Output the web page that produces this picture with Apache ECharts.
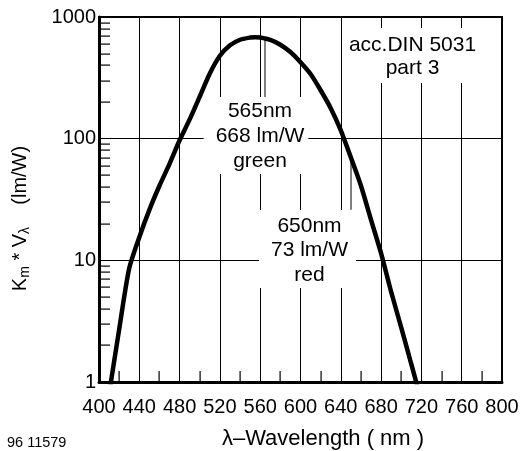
<!DOCTYPE html>
<html>
<head>
<meta charset="utf-8">
<script src="https://cdn.jsdelivr.net/npm/echarts@6/dist/echarts.min.js"></script>
<style>html,body{margin:0;padding:0;background:#fff}#c{width:520px;height:451px}</style>
</head>
<body>
<div id="c"></div>
<script>
// Data
const wavelengths = [410, 420, 430, 440, 450, 460, 470, 480, 490, 500, 510, 520, 530, 540, 550, 555, 560, 570, 580, 590, 600, 610, 620, 630, 640, 650, 660, 670, 680, 690, 700, 710, 720];
const efficacy    = [0.8, 2.7, 8.6, 15.5, 26, 41, 62, 97, 144, 222, 344, 480, 585, 650, 678, 683, 678, 648, 592, 515, 425, 340, 250, 178, 117, 70, 41, 21.5, 11.4, 5.5, 2.8, 1.4, 0.7];
const xTicks = [400, 440, 480, 520, 560, 600, 640, 680, 720, 760, 800];
const xMinorTicks = [420, 460, 500, 540, 580, 620, 660, 700, 740, 780];
const yTicks = [1, 10, 100, 1000];
const yMinorTicks = [2, 3, 4, 5, 6, 7, 8, 9, 20, 30, 40, 50, 60, 70, 80, 90, 200, 300, 400, 500, 600, 700, 800, 900];
const markerWavelengths = [565, 650];
const markerTop = [668, 68];
const markerBottom = [220, 26];
const labelGreen = '565nm\n668 lm/W\ngreen';
const labelRed = '650nm\n73 lm/W\nred';
const labelNorm = 'acc.DIN 5031\npart 3';

const FONT = "'Liberation Sans', Arial, Helvetica, sans-serif";
const chart = echarts.init(document.getElementById('c'), null, {renderer: 'canvas'});

const option = {
  backgroundColor: '#fff',
  animation: false,
  grid: {
    left: 99, top: 17, right: 18, bottom: 69,
    show: true, borderColor: '#000', borderWidth: 2,
    containLabel: false, outerBoundsMode: 'none'
  },
  xAxis: {
    type: 'value',
    min: xTicks[0], max: xTicks[xTicks.length - 1],
    interval: xTicks[1] - xTicks[0],
    axisLine: {show: true, lineStyle: {color: '#000', width: 3}},
    axisTick: {show: false},
    splitLine: {show: true, lineStyle: {color: '#000', width: 1}},
    axisLabel: {color: '#000', fontSize: 20, fontFamily: FONT, margin: 15, formatter: v => String(v)}
  },
  yAxis: {
    type: 'log', logBase: 10,
    min: yTicks[0], max: yTicks[yTicks.length - 1],
    axisLine: {show: true, lineStyle: {color: '#000', width: 3}},
    axisTick: {show: false},
    splitLine: {show: true, lineStyle: {color: '#000', width: 1}},
    axisLabel: {color: '#000', fontSize: 20, fontFamily: FONT, margin: 3, formatter: v => String(v)}
  },
  series: [
    {
      type: 'custom', name: 'markers', z: 3, silent: true, clip: false,
      data: markerWavelengths.map((w, i) => [w, markerTop[i], markerBottom[i]]),
      renderItem: function (params, api) {
        const p1 = api.coord([api.value(0), api.value(1)]);
        const p2 = api.coord([api.value(0), api.value(2)]);
        return {type: 'rect', shape: {x: Math.round(p1[0]) - 0.5, y: p1[1], width: 1, height: p2[1] - p1[1]}, style: {fill: '#000'}};
      }
    },
    {
      type: 'line',
      name: 'Km*V',
      z: 10,
      clip: true,
      smooth: 0.25,
      symbol: 'none',
      lineStyle: {color: '#000', width: 4.5},
      data: wavelengths.map((w, i) => [w, efficacy[i]])
    }
  ],
  graphic: [
    {type: 'text', z: 6, x: 256, y: 97,
     style: {text: labelGreen, fill: '#000', fontSize: 21, fontFamily: FONT, lineHeight: 25,
             align: 'center', verticalAlign: 'top', backgroundColor: '#fff', padding: [2, 4, 0, 12]}},
    {type: 'text', z: 6, x: 307.5, y: 210,
     style: {text: labelRed, fill: '#000', fontSize: 21, fontFamily: FONT, lineHeight: 24.5,
             align: 'center', verticalAlign: 'top', backgroundColor: '#fff', padding: [3.5, 8, 1, 12]}},
    {type: 'text', z: 6, x: 412.5, y: 28,
     style: {text: labelNorm, fill: '#000', fontSize: 21, fontFamily: FONT, lineHeight: 23,
             align: 'center', verticalAlign: 'top', backgroundColor: '#fff', padding: [6, 4, 3, 4]}},
    {type: 'text', z: 6, x: 20, y: 218.5, rotation: Math.PI / 2,
     style: {text: '{n|K}{s|m}{n| * V}{s|λ}{n|    (lm/W)}', fill: '#000',
             align: 'center', verticalAlign: 'middle',
             rich: {
               n: {fontSize: 20, fontFamily: FONT, lineHeight: 24, fill: '#000'},
               s: {fontSize: 14, fontFamily: FONT, lineHeight: 14, padding: [10, 0, 0, 0], fill: '#000'}
             }}},
    {type: 'text', z: 6, x: 323, y: 439,
     style: {text: 'λ–Wavelength ( nm )', fill: '#000', fontSize: 22, fontFamily: FONT,
             align: 'center', verticalAlign: 'middle'}},
    {type: 'text', z: 6, x: 7, y: 443,
     style: {text: '96 11579', fill: '#000', fontSize: 14.5, fontFamily: FONT,
             align: 'left', verticalAlign: 'middle'}}
  ]
};
chart.setOption(option);

// Minor ticks placed through the chart's own coordinate conversion
const tickEls = [];
yMinorTicks.forEach(v => {
  const p = chart.convertToPixel({gridIndex: 0}, [xTicks[0], v]);
  const y = Math.round(p[1]);
  tickEls.push({type: 'rect', z: 20, silent: true,
    shape: {x: p[0], y: y - 0.5, width: 11, height: 1.2},
    style: {fill: '#000'}});
});
xMinorTicks.forEach(w => {
  const p = chart.convertToPixel({gridIndex: 0}, [w, yTicks[0]]);
  const x = Math.round(p[0]);
  tickEls.push({type: 'rect', z: 20, silent: true,
    shape: {x: x - 0.5, y: p[1] - 11, width: 1.2, height: 11},
    style: {fill: '#000'}});
});
chart.setOption({graphic: option.graphic.concat(tickEls)});
</script>
</body>
</html>
